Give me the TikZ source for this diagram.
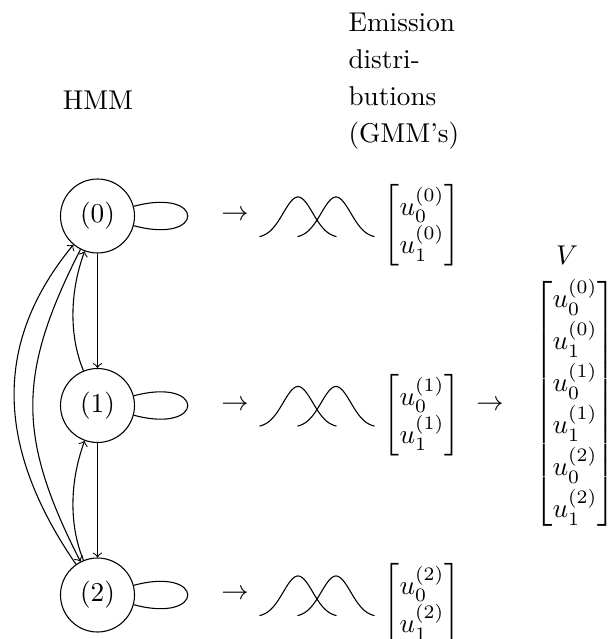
\documentclass[tikz,border=0pt]{standalone}
\usepackage{amsmath}
\begin{document}
\begin{tikzpicture}[x=0.3676pt,y=-0.3676pt,
  state/.style={circle,draw,minimum size=27.2pt,inner sep=0pt},
  txt/.style={inner sep=0pt},
  bell/.style={domain=-38.5:38.5,samples=60,smooth}]
\useasboundingbox (0,0) rectangle (608,639);
% labels
\node[txt] (hmm) at (98,100) {HMM};
\node[txt,align=left,anchor=north west,font=\fontsize{10}{13.7}\selectfont] (emis) at (348,12)
  {Emission\\distri-\\butions\\(GMM's)};
% states
\node[state] (n0) at (97.5,216) {(0)};
\node[state] (n1) at (97.5,405.5) {(1)};
\node[state] (n2) at (97.5,595) {(2)};
% self loops
\draw (n0.15) .. controls +(72,-19.3) and +(72,19.3) .. (n0.-15);
\draw (n1.15) .. controls +(72,-19.3) and +(72,19.3) .. (n1.-15);
\draw (n2.15) .. controls +(72,-19.3) and +(72,19.3) .. (n2.-15);
% transitions
\draw[->] (n0) -- (n1);
\draw[->] (n1) -- (n2);
\draw[->] (n1.112) .. controls (69.3,336.5) and (69.3,293) .. (n0.-110);
\draw[->] (n2.112) .. controls (69.3,526) and (69.3,482.5) .. (n1.-110);
\draw[->] (n0.-117) .. controls (17,374) and (17,437) .. (n2.117);
\draw[->] (n2.125) .. controls (-6,445) and (-6,341) .. (n0.-130);
% arrows
\node[txt] (a0) at (235,216) {$\to$};
\node[txt] (a1) at (235,405.5) {$\to$};
\node[txt] (a2) at (235,595) {$\to$};
% gaussians
\foreach \r in {216,405.5,595}{
  \draw[bell] plot ({\x+298},{\r+22-41*exp(-(\x)*(\x)/438)});
  \draw[bell] plot ({\x+336},{\r+22-41*exp(-(\x)*(\x)/438)});
}
% matrices
\node[txt] (m0) at (422,225.5) {$\begin{bmatrix} u_0^{(0)}\\ u_1^{(0)}\end{bmatrix}$};
\node[txt] (m1) at (422,415) {$\begin{bmatrix} u_0^{(1)}\\ u_1^{(1)}\end{bmatrix}$};
\node[txt] (m2) at (422,604.5) {$\begin{bmatrix} u_0^{(2)}\\ u_1^{(2)}\end{bmatrix}$};
\node[txt] (a3) at (490,406) {$\to$};
\node[txt] (vlab) at (567,255) {$V$};
\node[txt] (vec) at (575,403.5) {$\begin{bmatrix} u_0^{(0)}\\[1.4pt] u_1^{(0)}\\[1.4pt] u_0^{(1)}\\[1.4pt] u_1^{(1)}\\[1.4pt] u_0^{(2)}\\[1.4pt] u_1^{(2)}\end{bmatrix}$};
\end{tikzpicture}
\end{document}
